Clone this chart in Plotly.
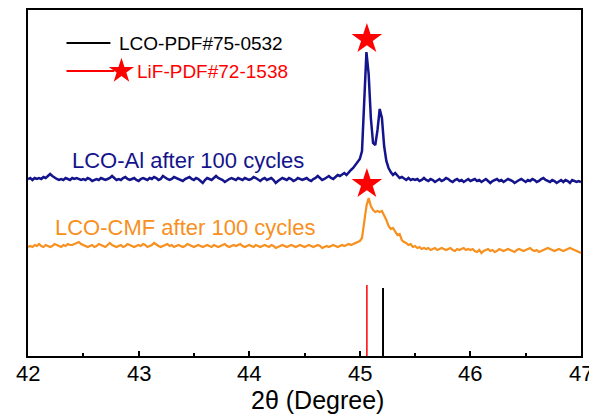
import numpy as np
import plotly.graph_objects as go

# 2theta sampling grid (0.02 deg)
two_theta = np.round(np.arange(42.0, 47.0001, 0.02), 3)

# LCO-Al after 100 cycles (offset intensity, a.u.)
lco_al = [
    177,178,176,178,177,178,177,179,178,180,182,180,178,177,176,177,176,178,177,176,178,177,178,177,176,
    177,176,178,177,175,176,177,176,178,177,176,177,178,180,178,176,177,176,178,179,177,176,177,178,176,
    175,177,178,177,176,178,177,179,178,176,177,180,178,177,176,177,179,178,177,176,175,177,178,179,177,
    176,178,177,175,173,176,178,177,176,178,180,178,177,176,174,176,177,178,177,176,178,177,176,178,177,
    176,177,179,178,176,175,177,178,176,177,178,176,173,175,177,178,177,176,178,177,175,176,178,177,176,
    177,178,176,175,177,178,180,178,176,177,179,180,178,177,179,181,180,182,183,181,184,186,188,191,195,
    197,205,257,304,282,238,213,211,226,247,238,210,195,188,184,181,183,180,178,179,177,176,178,176,177,
    176,177,175,176,178,176,175,177,176,174,176,177,175,176,178,177,175,174,176,177,175,176,174,176,177,
    175,176,177,175,176,174,176,177,175,173,175,176,177,175,176,174,176,177,176,175,173,175,176,177,175,
    174,176,175,177,176,174,175,177,178,176,175,174,176,175,173,175,176,174,176,175,173,176,175,174,175,
    174,
]

# LCO-CMF after 100 cycles (offset intensity, a.u.)
lco_cmf = [
    109,110,109,111,110,112,110,109,111,110,109,110,112,111,110,109,111,110,112,111,111,112,113,114,112,
    111,110,109,110,111,109,110,112,111,110,109,111,113,111,110,109,110,111,109,110,112,111,110,109,110,
    111,110,112,111,109,110,111,113,111,110,109,110,111,112,110,111,109,110,111,110,109,110,112,111,110,
    109,110,111,110,109,110,111,110,109,111,110,109,110,111,112,110,109,110,111,110,111,112,110,109,110,
    111,110,109,111,110,109,110,111,110,109,111,110,108,109,110,111,110,109,110,111,110,109,110,111,110,
    109,110,111,110,109,110,111,110,108,109,110,109,110,111,110,109,110,111,110,111,112,111,112,113,114,
    115,118,135,150,158,150,146,144,145,144,145,141,136,130,127,128,124,121,122,116,114,113,111,112,109,
    110,108,109,107,108,107,108,106,107,108,106,107,108,107,106,107,108,106,105,107,106,107,108,106,107,
    106,107,105,104,106,103,105,106,107,105,106,104,105,107,106,105,106,107,106,105,104,106,107,106,105,
    106,107,108,106,105,106,104,105,106,107,108,107,106,105,106,107,106,105,106,107,108,107,106,105,104,
    103,
]

# Reference patterns
ref_names = ["LCO-PDF#75-0532", "LiF-PDF#72-1538"]
ref_pos = [45.21, 45.064]
ref_height = [68, 71]
ref_colors = ["black", "red"]

# LiF peak markers (stars)
star_x = [45.064, 45.064]
star_y = [317, 172]

# Curve labels
curve_labels = ["LCO-Al after 100 cycles", "LCO-CMF after 100 cycles"]
curve_colors = ["#14148C", "#F7901E"]
tick_vals = [42, 43, 44, 45, 46, 47]
tick_text = ["42", "43", "44", "45", "46", "47"]
x_title = "2θ (Degree)"

FONT = "Arial, Liberation Sans, sans-serif"

fig = go.Figure()

fig.add_trace(go.Scatter(x=two_theta, y=lco_al, mode="lines",
                         line=dict(color=curve_colors[0], width=2.5), showlegend=False))
fig.add_trace(go.Scatter(x=two_theta, y=lco_cmf, mode="lines",
                         line=dict(color=curve_colors[1], width=2.2), showlegend=False))

for p, h, c, w in zip(ref_pos, ref_height, ref_colors, [2, 1.5]):
    fig.add_trace(go.Scatter(x=[p, p], y=[0, h], mode="lines",
                             line=dict(color=c, width=w), showlegend=False))

fig.add_trace(go.Scatter(x=star_x, y=star_y, mode="markers",
                         marker=dict(symbol="star", size=23, color="red", line=dict(width=0)),
                         showlegend=False))

# Custom legend (drawn in data space)
leg_x0, leg_x1 = 42.348, 42.745
leg_y = [313, 285]
fig.add_trace(go.Scatter(x=[leg_x0, leg_x1], y=[leg_y[0], leg_y[0]], mode="lines",
                         line=dict(color="black", width=2), showlegend=False))
fig.add_trace(go.Scatter(x=[leg_x0, 42.78], y=[leg_y[1], leg_y[1]], mode="lines",
                         line=dict(color="red", width=2), showlegend=False))
fig.add_trace(go.Scatter(x=[42.845], y=[leg_y[1]], mode="markers",
                         marker=dict(symbol="star", size=19, color="red", line=dict(width=0)),
                         showlegend=False))
fig.add_annotation(x=42.805, y=leg_y[0], text=ref_names[0], showarrow=False,
                   xanchor="left", yanchor="middle", font=dict(size=19, color="black", family=FONT))
fig.add_annotation(x=42.965, y=leg_y[1], text=ref_names[1], showarrow=False,
                   xanchor="left", yanchor="middle", font=dict(size=19, color="red", family=FONT))

fig.add_annotation(x=42.38, y=196, text=curve_labels[0], showarrow=False,
                   xanchor="left", yanchor="middle", font=dict(size=22, color=curve_colors[0], family=FONT))
fig.add_annotation(x=42.23, y=129, text=curve_labels[1], showarrow=False,
                   xanchor="left", yanchor="middle", font=dict(size=22, color=curve_colors[1], family=FONT))

# tick labels placed close to the axis, as in the reference
for v, t in zip(tick_vals, tick_text):
    fig.add_annotation(x=v, y=-0.052, yref="paper", text=t, showarrow=False,
                       xanchor="center", yanchor="middle", font=dict(size=22, color="black", family=FONT))

# x-axis title
fig.add_annotation(x=44.62, y=-0.127, yref="paper", text=x_title, showarrow=False,
                   xanchor="center", yanchor="middle", font=dict(size=25, color="black", family=FONT))

# page body has an 8px margin, so the figure is sized to fit the 597x416 window
fig.update_layout(
    width=589, height=408,
    margin=dict(l=20, r=16, t=2, b=60),
    plot_bgcolor="white", paper_bgcolor="white",
    font=dict(family=FONT, color="black"),
    xaxis=dict(range=[42, 47], tickvals=tick_vals, showticklabels=False, ticks="inside", ticklen=5,
               tickwidth=1.5, tickcolor="black", showline=True, linecolor="black", linewidth=2,
               mirror=True, showgrid=False, zeroline=False, automargin=False,
               minor=dict(dtick=0.5, ticks="inside", ticklen=3, tickcolor="black", tickwidth=1.5)),
    yaxis=dict(range=[0, 346], showticklabels=False, ticks="", showline=True, linecolor="black",
               linewidth=2, mirror=True, showgrid=False, zeroline=False, automargin=False),
)

fig.write_html("out.html")
